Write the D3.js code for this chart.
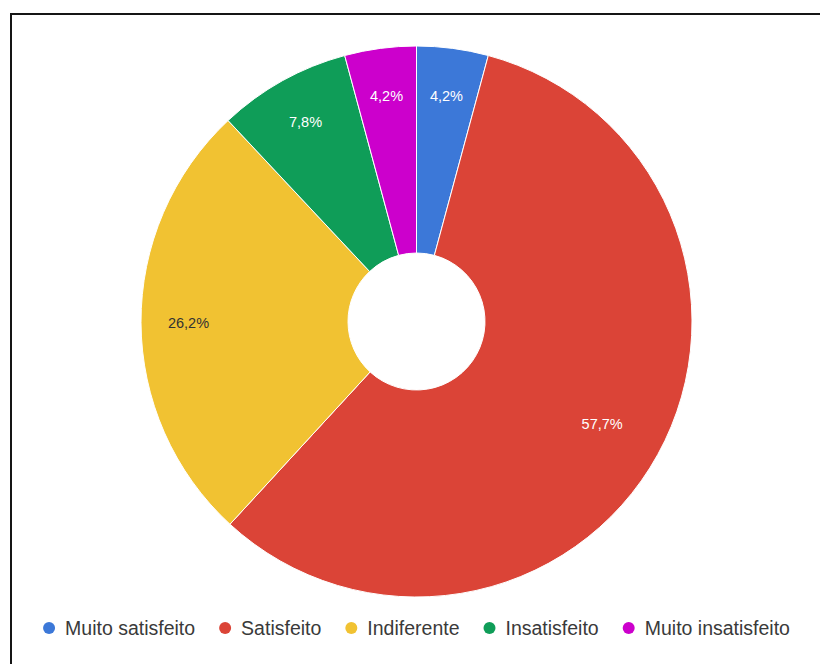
<!DOCTYPE html>
<html><head><meta charset="utf-8">
<script src="https://cdn.jsdelivr.net/npm/d3@7"></script>
<style>html,body{margin:0;padding:0;background:#fff;}svg{display:block;}</style>
</head><body>
<script>
const categories = ["Muito satisfeito", "Satisfeito", "Indiferente", "Insatisfeito", "Muito insatisfeito"];
const values = [4.2, 57.7, 26.2, 7.8, 4.2];
const colors = ["#3c78d8", "#db4437", "#f1c232", "#0f9d58", "#cc00cc"];
const labelColors = ["#ffffff", "#ffffff", "#333333", "#ffffff", "#ffffff"];

const W = 820, H = 664;
const cx = 416.5, cy = 321.5, R = 275.5, r0 = 68.5, labelR = 228;

const svg = d3.select("body").append("svg").attr("width", W).attr("height", H);

// frame (top & left edges only, as in the cropped reference)
svg.append("path").attr("d", `M11,${H} L11,14 L${W},14`)
  .attr("fill", "none").attr("stroke", "#151515").attr("stroke-width", 2);

const data = categories.map((c, i) => ({cat: c, value: values[i], color: colors[i], lc: labelColors[i]}));
const pie = d3.pie().sort(null).value(d => d.value);
const arcs = pie(data);
const arc = d3.arc().innerRadius(r0).outerRadius(R);
const labelArc = d3.arc().innerRadius(labelR).outerRadius(labelR);

const g = svg.append("g").attr("transform", `translate(${cx},${cy})`);
g.selectAll("path.slice").data(arcs).enter().append("path")
  .attr("class", "slice")
  .attr("d", arc)
  .attr("fill", d => d.data.color)
  .attr("stroke", "#ffffff").attr("stroke-width", 1);

const loc = d3.formatLocale({decimal: ",", thousands: ".", grouping: [3], currency: ["", ""]});
const fmt = loc.format(".1f");

g.selectAll("text.lbl").data(arcs).enter().append("text")
  .attr("class", "lbl")
  .attr("transform", d => {
    const [x, y] = labelArc.centroid(d);
    const big = (d.endAngle - d.startAngle) > Math.PI;
    const k = big ? 212 / labelR : 1;
    return `translate(${x * k},${y * k})`;
  })
  .attr("text-anchor", "middle").attr("dy", "0.35em")
  .attr("font-family", "Liberation Sans, Arial, sans-serif").attr("font-size", 14.5)
  .attr("fill", d => d.data.lc)
  .text(d => fmt(d.data.value) + "%");

// legend
const legend = svg.append("g");
const items = legend.selectAll("g").data(data).enter().append("g");
items.append("circle").attr("r", 6).attr("cy", 0).attr("fill", d => d.color);
items.append("text").attr("x", 16).attr("dy", "0.35em")
  .attr("font-family", "Liberation Sans, Arial, sans-serif").attr("font-size", 19.5)
  .attr("fill", "#3a3a3a").text(d => d.cat);
let x = 0;
const gap = 24;
items.each(function() {
  const t = d3.select(this).select("text").node().getComputedTextLength();
  d3.select(this).attr("transform", `translate(${x},0)`);
  x += 6 + 16 + t + gap;
});
const total = x - gap;
legend.attr("transform", `translate(${cx - total / 2 + 6},628)`);
</script>
</body></html>
